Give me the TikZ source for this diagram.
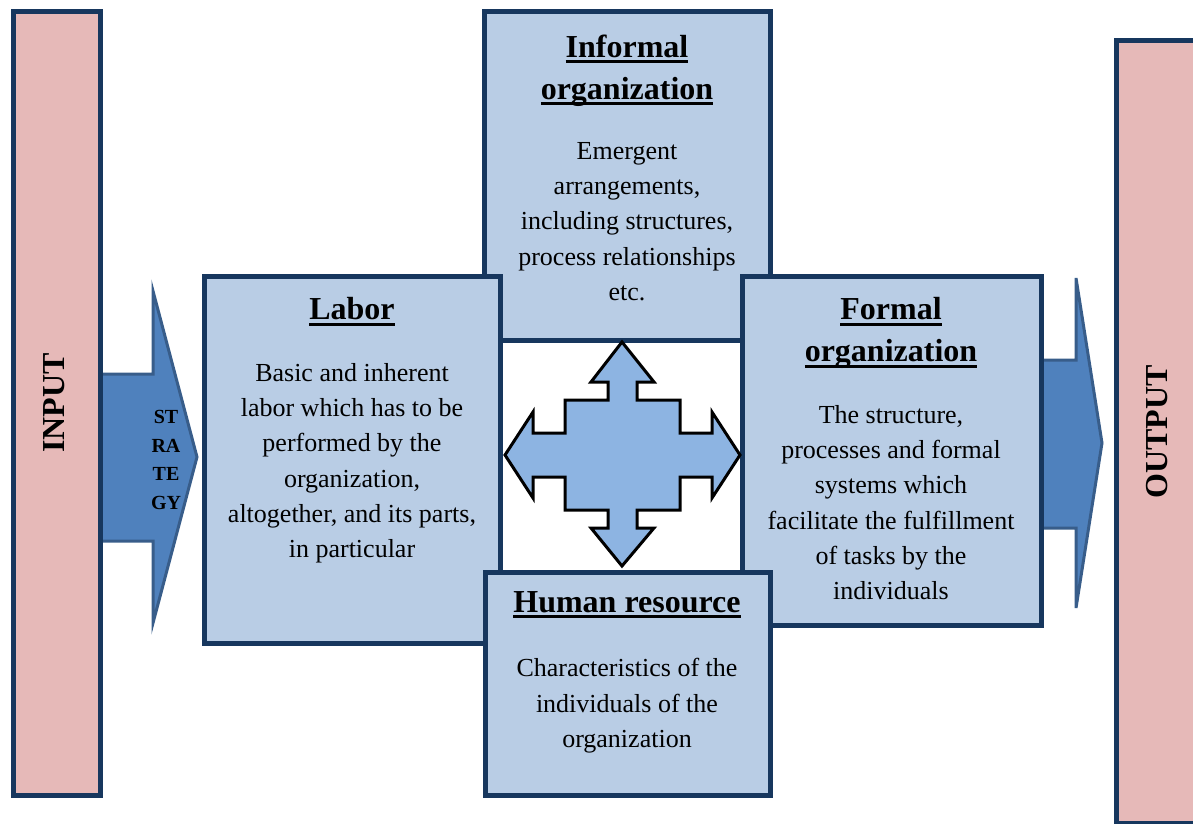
\documentclass[tikz,border=0pt]{standalone}
\usepackage{fontspec}
\setmainfont{Liberation Serif}

\definecolor{navyline}{RGB}{23,55,94}
\definecolor{panelfill}{RGB}{185,205,229}
\definecolor{barfill}{RGB}{230,185,184}
\definecolor{arrowfill}{RGB}{79,129,189}
\definecolor{arrowline}{RGB}{56,93,138}
\definecolor{crossfill}{RGB}{141,180,226}

% underline for the panel titles
\newsavebox\ulbox
\newcommand\ttlul[1]{\sbox\ulbox{#1}\rlap{\rule[-4.5pt]{\wd\ulbox}{2.4pt}}\usebox\ulbox}

\tikzset{every picture/.style={line width=0.75pt}}
\tikzset{
	panel/.style={draw=navyline, fill=panelfill, line width=3.75pt},
	bar/.style={draw=navyline, fill=barfill, line width=3.75pt},
	blockarrow/.style={draw=arrowline, fill=arrowfill, line width=2.25pt},
	crossarrow/.style={draw=black, fill=crossfill, line width=2.25pt},
	ttltext/.style={anchor=north, inner sep=0pt, align=center, font=\fontsize{24}{31.5}\selectfont\bfseries},
	bodytext/.style={anchor=north, inner sep=0pt, align=center, font=\fontsize{19.5}{26.4}\selectfont},
	bartext/.style={inner sep=0pt, rotate=90, font=\fontsize{24}{28}\selectfont\bfseries}
}

\begin{document}
\begin{tikzpicture}[x=0.75pt,y=0.75pt,yscale=-1,xscale=1]
	\path [use as bounding box] (0,0) rectangle (1193,824);
	\clip (0,0) rectangle (1193,824);
	
	%Shape: Block Arrow, strategy
	\draw [blockarrow]  (100,374) -- (153,374) -- (153,291) -- (197,457) -- (153,623) -- (153,541) -- (100,541) -- cycle ;
	
	%Shape: Block Arrow, output
	\draw [blockarrow]  (1038,360) -- (1076,360) -- (1076,278) -- (1102,443) -- (1076,608) -- (1076,528) -- (1038,528) -- cycle ;
	
	%Shape: Rectangle, input
	\draw [bar]  (13,12) -- (100,12) -- (100,795) -- (13,795) -- cycle ;
	
	%Shape: Rectangle, output
	\draw [bar]  (1116,41) -- (1200,41) -- (1200,823) -- (1116,823) -- cycle ;
	
	%Shape: Rectangle, informal organization
	\draw [panel]  (484,12) -- (770,12) -- (770,340) -- (484,340) -- cycle ;
	
	%Shape: Rectangle, labor
	\draw [panel]  (204,276) -- (500,276) -- (500,643) -- (204,643) -- cycle ;
	
	%Shape: Rectangle, formal organization
	\draw [panel]  (742,276) -- (1041,276) -- (1041,625) -- (742,625) -- cycle ;
	
	%Shape: Rectangle, human resource
	\draw [panel]  (485,572) -- (770,572) -- (770,795) -- (485,795) -- cycle ;
	
	%Shape: Quad Arrow
	\draw [crossarrow]  (622,342) -- (654,382) -- (637,382) -- (637,400) -- (680,400) -- (680,433) -- (712,433) -- (712,412) -- (740,455) -- (712,498) -- (712,477) -- (680,477) -- (680,510) -- (637,510) -- (637,528) -- (654,528) -- (622,566) -- (591,528) -- (608,528) -- (608,510) -- (565,510) -- (565,477) -- (533,477) -- (533,498) -- (505,455) -- (533,412) -- (533,433) -- (565,433) -- (565,400) -- (608,400) -- (608,382) -- (591,382) -- cycle ;
	
	
	% Text Node
	\draw (54,403) node (input) [bartext] {INPUT};
	% Text Node
	\draw (1157,432) node (output) [bartext] {OUTPUT};
	% Text Node
	\draw (166,410) node (strategy) [anchor=north, inner sep=0pt, align=center, font=\fontsize{15}{21.4}\selectfont\bfseries] {ST\\RA\\TE\\GY};
	% Text Node
	\draw (627,34) node (informaltitle) [ttltext] {\ttlul{Informal}\\\ttlul{organization}};
	% Text Node
	\draw (627,142) node (informalbody) [bodytext] {Emergent\\arrangements,\\including structures,\\process relationships\\etc.};
	% Text Node
	\draw (352,297) node (labortitle) [ttltext] {\ttlul{Labor}};
	% Text Node
	\draw (352,363) node (laborbody) [bodytext] {Basic and inherent\\labor which has to be\\performed by the\\organization,\\altogether, and its parts,\\in particular};
	% Text Node
	\draw (891,297) node (formaltitle) [ttltext] {\ttlul{Formal}\\\ttlul{organization}};
	% Text Node
	\draw (891,405) node (formalbody) [bodytext] {The structure,\\processes and formal\\systems which\\facilitate the fulfillment\\of tasks by the\\individuals};
	% Text Node
	\draw (627,591) node (humantitle) [ttltext] {\ttlul{Human resource}};
	% Text Node
	\draw (627,658) node (humanbody) [bodytext] {Characteristics of the\\individuals of the\\organization};
	
\end{tikzpicture}
\end{document}
